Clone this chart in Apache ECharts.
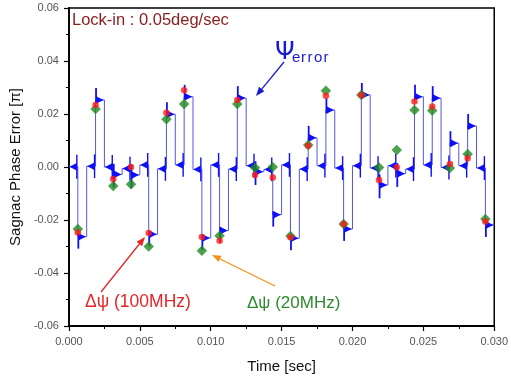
<!DOCTYPE html>
<html><head><meta charset="utf-8">
<script src="https://cdn.jsdelivr.net/npm/echarts@6/dist/echarts.min.js"></script>
<style>html,body{margin:0;padding:0;background:#fff}#c{width:511px;height:380px}</style>
</head><body><div id="c"></div>
<script>
// time (s) at which each modulation level starts
const stepTimes = [0.000625,0.001875,0.003125,0.004375,0.005625,0.006875,0.008125,0.009375,
  0.010625,0.011875,0.013125,0.014375,0.015625,0.016875,0.018125,0.019375,
  0.020625,0.021875,0.023125,0.024375,0.025625,0.026875,0.028125,0.029375];
const segDur = 0.000625;
// psi_error level during each step
const levelValues = [-0.0263,0.0253,-0.0028,-0.0030,-0.0254,0.0199,0.0265,-0.0268,
  -0.0240,0.0260,-0.0018,-0.0180,-0.0269,0.0110,0.0215,-0.0234,
  0.0272,-0.0068,-0.0025,0.0265,0.0260,0.0090,0.0155,-0.0219];
// psi_error level in the segment before each step
const baseValues = [0.0001,0.0003,0.0000,-0.0006,0.0008,-0.0007,0.0008,-0.0009,
  0.0008,-0.0008,0.0005,-0.0009,0.0008,-0.0008,0.0005,-0.0004,
  0.0005,-0.0004,0.0005,-0.0008,0.0008,-0.0002,0.0005,-0.0004];
const dpsi100 = [-0.0247,0.0234,-0.0045,0.0000,-0.0249,0.0205,0.0290,-0.0264,
  -0.0278,0.0253,-0.0030,-0.0040,-0.0265,0.0080,0.0269,-0.0215,
  0.0272,-0.0049,-0.0001,0.0247,0.0228,0.0011,0.0033,-0.0206];
const dpsi20 = [-0.0234,0.0219,-0.0072,-0.0065,-0.0300,0.0180,0.0238,-0.0316,
  -0.0259,0.0238,-0.0003,0.0000,-0.0260,0.0083,0.0288,-0.0215,
  0.0272,-0.0002,0.0064,0.0215,0.0213,-0.0004,0.0049,-0.0196];

const chart = echarts.init(document.getElementById('c'), null, {renderer:'canvas'});

// step line points
const linePts = [[0, baseValues[0]]];
stepTimes.forEach((t,k)=>{
  linePts.push([t, levelValues[k]]);
  if (k < stepTimes.length-1) linePts.push([t+segDur, baseValues[k+1]]);
});
linePts.push([0.03, levelValues[levelValues.length-1]]);

// segments for ringing fins: [start, end, level, prevLevel, kind]
const segs = [];
stepTimes.forEach((t,k)=>{
  const s = k===0 ? 0 : stepTimes[k-1]+segDur;
  segs.push([s, t, baseValues[k], k===0?baseValues[0]:levelValues[k-1], 0]);
  segs.push([t, t+segDur, levelValues[k], baseValues[k], 1]);
});

const FIN = '#0f0ff5';
function renderFin(params, api){
  const t0=api.value(0), t1=api.value(1), lv=api.value(2), pv=api.value(3), kind=api.value(4);
  const a=api.coord([t0,lv]), b=api.coord([t1,lv]);
  const w=b[0]-a[0], h=4;
  const ch=[];
  if (kind===1){
    const dir = lv>pv?1:-1;
    const big = Math.abs(lv-pv)>0.008;
    const yo = api.coord([t0, lv+dir*(big?0.0045:0.005)])[1];
    const yq = api.coord([t0, lv-dir*(big?0.0012:0.004)])[1];
    ch.push({type:'polygon',shape:{points:[[a[0]+0.5,a[1]-h],[a[0]+2.5,a[1]-h*0.7],[a[0]+w*0.92,a[1]],[a[0]+2.5,a[1]+h*0.7],[a[0]+0.5,a[1]+h]]},style:{fill:FIN}});
    ch.push({type:'line',shape:{x1:a[0]+0.5,y1:yq,x2:a[0]+0.5,y2:yo},style:{stroke:FIN,lineWidth:1.8}});
  } else {
    const ya = api.coord([t1, lv+0.0045])[1], yb = api.coord([t1, lv-0.0045])[1];
    ch.push({type:'polygon',shape:{points:[[b[0]-1,b[1]-h],[b[0]-3,b[1]-h*0.7],[b[0]-1-w*0.85,b[1]],[b[0]-3,b[1]+h*0.7],[b[0]-1,b[1]+h]]},style:{fill:FIN}});
    ch.push({type:'line',shape:{x1:b[0]-1,y1:ya,x2:b[0]-1,y2:yb},style:{stroke:FIN,lineWidth:1.4}});
  }
  return {type:'group',children:ch};
}

function arrow(x1,y1,x2,y2,color){
  const ang=Math.atan2(y2-y1,x2-x1), L=9, W=3.5;
  const bx=x2-L*Math.cos(ang), by=y2-L*Math.sin(ang);
  const px=-Math.sin(ang)*W, py=Math.cos(ang)*W;
  return [
    {type:'line',shape:{x1:x1,y1:y1,x2:bx,y2:by},style:{stroke:color,lineWidth:1.3},z:100},
    {type:'polygon',shape:{points:[[x2,y2],[bx+px,by+py],[bx-px,by-py]]},style:{fill:color},z:100}
  ];
}

const FONT='"Liberation Sans", Arial, sans-serif';
const errLetters = ['e','r','r','o','r'];
const errX = [292, 301, 307.5, 314, 323.5];
const graphics = [
  {type:'text',x:72,y:20,z:100,style:{text:'Lock-in : 0.05deg/sec',font:'16.5px '+FONT,fill:'#8b1c1c',verticalAlign:'middle'}},
  {type:'text',x:275,y:52,z:100,style:{text:'Ψ',font:'25px "DejaVu Sans"',fill:'#1a1ad0',verticalAlign:'middle'}},
  ...errLetters.map((c,i)=>({type:'text',x:errX[i],y:58,z:100,style:{text:c,font:'15px '+FONT,fill:'#1a1ad0',verticalAlign:'middle'}})),
  {type:'text',x:85,y:302,z:100,style:{text:'Δψ (100MHz)',font:'17.5px '+FONT,fill:'#e52525',verticalAlign:'middle'}},
  {type:'text',x:247,y:303,z:100,style:{text:'Δψ (20MHz)',font:'17px '+FONT,fill:'#2e8b2e',verticalAlign:'middle'}},
  ...arrow(284,62,256,96,'#1a1ad0'),
  ...arrow(101,292,145,237,'#e52525'),
  ...arrow(275,286,212,255,'#f0921e')
];

chart.setOption({
  backgroundColor:'#fff',
  animation:false,
  grid:{left:68,right:6,top:8,bottom:54,show:true,borderColor:'#000',borderWidth:1.5,backgroundColor:'transparent'},
  xAxis:{type:'value',min:0,max:0.03,interval:0.005,
    name:'Time [sec]',nameLocation:'middle',nameGap:33,
    nameTextStyle:{fontFamily:FONT,fontSize:15,color:'#111'},
    axisLine:{onZero:false,lineStyle:{color:'#000',width:1.8}},
    axisTick:{inside:false,length:5,lineStyle:{color:'#000',width:1.2}},
    minorTick:{show:true,splitNumber:2,length:3,lineStyle:{color:'#000',width:1}},
    axisLabel:{formatter:v=>v.toFixed(3),fontFamily:FONT,fontSize:11,color:'#555',margin:10},
    splitLine:{show:false}},
  yAxis:{type:'value',min:-0.06,max:0.06,interval:0.02,
    name:'Sagnac Phase Error [π]',nameLocation:'middle',nameGap:42,
    nameTextStyle:{fontFamily:FONT,fontSize:15,color:'#111'},
    axisLine:{onZero:false,lineStyle:{color:'#000',width:1.8}},
    axisTick:{inside:false,length:5,lineStyle:{color:'#000',width:1.2}},
    minorTick:{show:true,splitNumber:2,length:3,lineStyle:{color:'#000',width:1}},
    axisLabel:{formatter:v=>v.toFixed(2),fontFamily:FONT,fontSize:11,color:'#555',margin:10},
    splitLine:{show:false}},
  series:[
    {type:'line',data:linePts,step:'end',symbol:'none',lineStyle:{color:'#5555e0',width:1},z:2},
    {type:'custom',data:segs,renderItem:renderFin,z:3,silent:true},
    {type:'scatter',data:stepTimes.map((t,k)=>[t,dpsi20[k]]),symbol:'diamond',symbolSize:10.5,
      itemStyle:{color:'#1f8a1f'},z:4},
    {type:'scatter',data:stepTimes.map((t,k)=>[t,dpsi100[k]]),symbol:'circle',symbolSize:6.5,
      itemStyle:{color:'#ff1a1a'},z:5}
  ],
  graphic:graphics
});
</script></body></html>
